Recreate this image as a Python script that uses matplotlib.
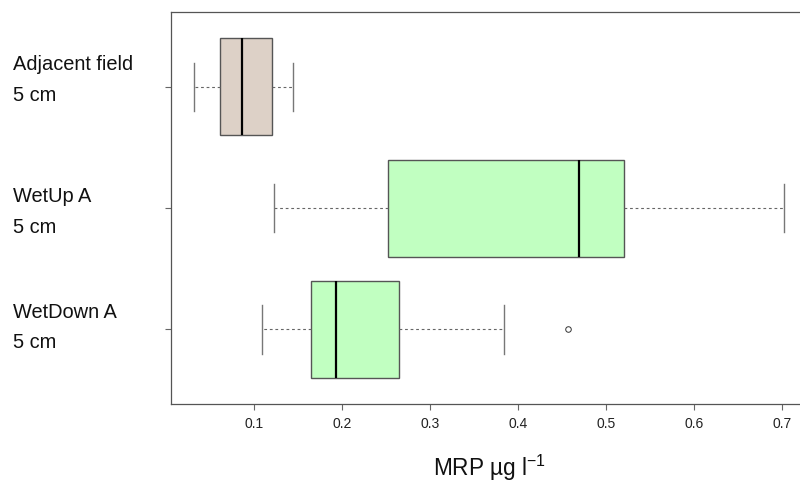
import matplotlib
matplotlib.use('Agg')
import matplotlib.pyplot as plt

plt.rcParams['font.family'] = ['Liberation Sans', 'DejaVu Sans']
plt.rcParams['mathtext.fontset'] = 'custom'
plt.rcParams['mathtext.rm'] = 'Liberation Sans'
plt.rcParams['mathtext.it'] = 'Liberation Sans'
plt.rcParams['mathtext.bf'] = 'Liberation Sans'

# group data (top to bottom)
groups = ['Adjacent field\n5 cm', 'WetUp A\n5 cm', 'WetDown A\n5 cm']
whis_lo = [0.032, 0.122, 0.109]
q1 = [0.061, 0.2525, 0.164]
med = [0.086, 0.469, 0.193]
q3 = [0.1205, 0.521, 0.265]
whis_hi = [0.144, 0.703, 0.384]
outliers = [[], [], [0.457]]
fills = ['#DDD1C7', '#C1FFC1', '#C1FFC1']
xticks = [0.1, 0.2, 0.3, 0.4, 0.5, 0.6, 0.7]
xlabel = 'MRP µg l$^{-1}$'

positions = [3, 2, 1]
# label baseline offsets (pixels, first line / second line) relative to each box centre
label_dy = [(17, -13.7), (6, -25), (11, -19)]

fig = plt.figure(figsize=(8, 4.82), dpi=100)
ax = fig.add_axes([0.21375, 0.1608, 0.7975, 0.8149])

stats = []
for i in range(len(groups)):
    stats.append({'whislo': whis_lo[i], 'q1': q1[i], 'med': med[i], 'q3': q3[i],
                  'whishi': whis_hi[i], 'fliers': outliers[i], 'label': groups[i]})

bp = ax.bxp(stats, positions=positions, widths=0.8, capwidths=0.4,
            orientation='horizontal', patch_artist=True, showfliers=True,
            boxprops=dict(edgecolor='#555555', linewidth=1.0),
            medianprops=dict(color='black', linewidth=1.6, solid_capstyle='butt'),
            whiskerprops=dict(color='#666666', linewidth=0.8, linestyle=(0, (2.5, 2.5))),
            capprops=dict(color='#777777', linewidth=1.0),
            flierprops=dict(marker='o', markersize=4, markerfacecolor='none',
                            markeredgecolor='#333333', markeredgewidth=0.7))
for patch, c in zip(bp['boxes'], fills):
    patch.set_facecolor(c)

ax.set_xlim(0.0053, 0.7309)
ax.set_ylim(0.38, 3.62)
ax.set_xticks(xticks)
ax.set_xticklabels([str(t) for t in xticks])
ax.set_yticks(positions)
ax.set_yticklabels([])
ax.tick_params(axis='both', direction='out', length=4.5, width=0.8, color='#666666')
ax.tick_params(axis='x', labelsize=10, pad=4.5, labelcolor='#222222')
for s in ['left', 'top', 'bottom']:
    ax.spines[s].set_color('#555555')
    ax.spines[s].set_linewidth(0.9)
ax.spines['right'].set_visible(False)

# group labels at the left edge of the figure
for lab, p, dy in zip(groups, positions, label_dy):
    lines = lab.split('\n')
    for line, off in zip(lines, dy):
        ax.annotate(line, xy=(12.7, p), xycoords=('figure pixels', 'data'),
                    xytext=(0, off), textcoords='offset pixels',
                    ha='left', va='baseline', fontsize=14.4, color='#111111',
                    annotation_clip=False)

fig.text(0.6125, 6.5 / 482, xlabel, ha='center', va='baseline', fontsize=16.3, color='#111111')

fig.savefig('out.png', dpi=100)
